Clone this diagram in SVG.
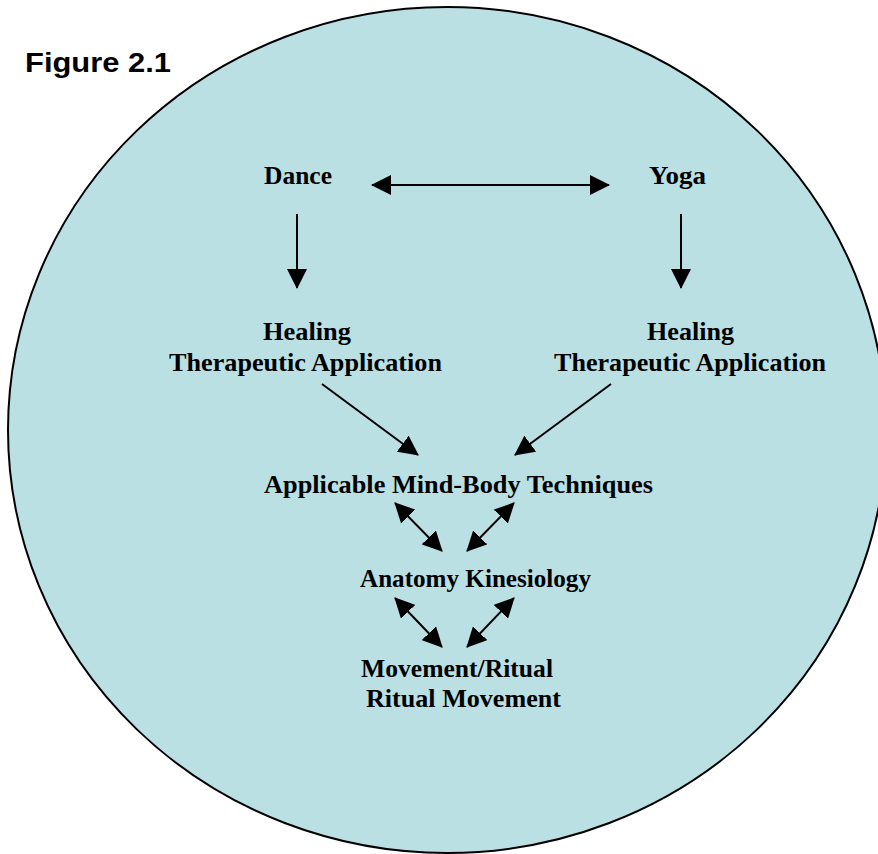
<svg xmlns="http://www.w3.org/2000/svg" width="878" height="854" viewBox="0 0 878 854">
<style>
.lbl{font-family:"Liberation Serif","Times New Roman",serif;font-weight:bold;font-size:24.5px;fill:#000}
.ttl{font-family:"Liberation Sans",Arial,sans-serif;font-weight:bold;font-size:28px;fill:#000}
.con line{stroke:#000;stroke-width:2;fill:none}
</style>
<defs>
<marker id="ah" viewBox="0 0 20 20" refX="19" refY="10" markerWidth="20" markerHeight="20" markerUnits="userSpaceOnUse" orient="auto-start-reverse">
<path d="M0,0 L20,10 L0,20 z" fill="#000"/>
</marker>
</defs>
<rect x="0" y="0" width="878" height="854" fill="#fff"/>
<ellipse id="circle" cx="447" cy="430" rx="439" ry="423" fill="#BAE0E4" stroke="#000" stroke-width="2"/>
<text class="ttl" x="25" y="72" textLength="146" lengthAdjust="spacingAndGlyphs">Figure 2.1</text>
<g id="dance"><text class="lbl" x="264" y="184" textLength="68" lengthAdjust="spacingAndGlyphs">Dance</text></g>
<g id="yoga"><text class="lbl" x="649" y="184" textLength="57" lengthAdjust="spacingAndGlyphs">Yoga</text></g>
<g id="healing-left">
<text class="lbl" x="263" y="340" textLength="88" lengthAdjust="spacingAndGlyphs">Healing</text>
<text class="lbl" x="169" y="371" textLength="273" lengthAdjust="spacingAndGlyphs">Therapeutic Application</text>
</g>
<g id="healing-right">
<text class="lbl" x="647" y="340" textLength="87" lengthAdjust="spacingAndGlyphs">Healing</text>
<text class="lbl" x="554" y="371" textLength="272" lengthAdjust="spacingAndGlyphs">Therapeutic Application</text>
</g>
<g id="mindbody"><text class="lbl" x="264" y="493" textLength="389" lengthAdjust="spacingAndGlyphs">Applicable Mind-Body Techniques</text></g>
<g id="anatomy"><text class="lbl" x="360" y="587" textLength="231" lengthAdjust="spacingAndGlyphs">Anatomy Kinesiology</text></g>
<g id="movement">
<text class="lbl" x="361" y="677" textLength="192" lengthAdjust="spacingAndGlyphs">Movement/Ritual</text>
<text class="lbl" x="366" y="707" textLength="195" lengthAdjust="spacingAndGlyphs">Ritual Movement</text>
</g>
<g class="con" id="connectors">
<line x1="372" y1="185" x2="609" y2="185" marker-start="url(#ah)" marker-end="url(#ah)"/>
<line x1="297" y1="214" x2="297" y2="288" marker-end="url(#ah)"/>
<line x1="681" y1="214" x2="681" y2="288" marker-end="url(#ah)"/>
<line x1="322" y1="384" x2="418" y2="455" marker-end="url(#ah)"/>
<line x1="611" y1="384" x2="515" y2="455" marker-end="url(#ah)"/>
<line x1="395" y1="503" x2="442" y2="551" marker-start="url(#ah)" marker-end="url(#ah)"/>
<line x1="514" y1="503" x2="467" y2="551" marker-start="url(#ah)" marker-end="url(#ah)"/>
<line x1="395" y1="598" x2="442" y2="647" marker-start="url(#ah)" marker-end="url(#ah)"/>
<line x1="514" y1="598" x2="467" y2="647" marker-start="url(#ah)" marker-end="url(#ah)"/>
</g>
</svg>
